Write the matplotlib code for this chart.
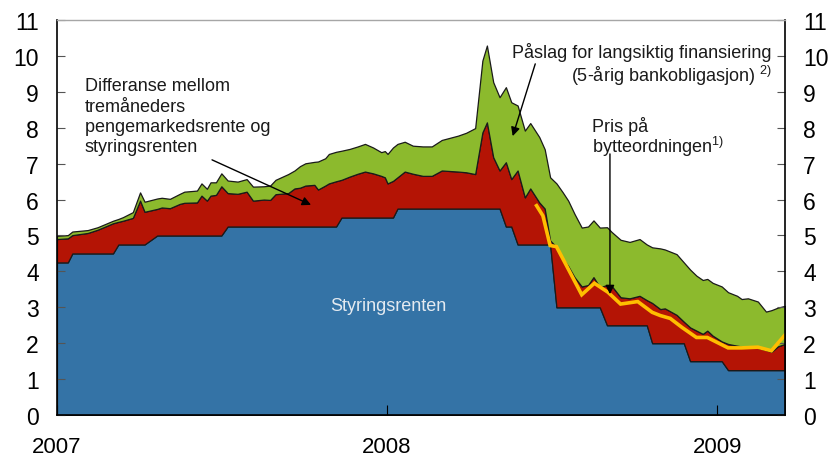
import matplotlib
matplotlib.use("Agg")
import matplotlib.pyplot as plt
import pandas as pd

plt.rcParams['font.family'] = ['Liberation Sans', 'DejaVu Sans']
plt.rcParams['mathtext.fontset'] = 'custom'
plt.rcParams['mathtext.rm'] = 'Liberation Sans'

dates = pd.to_datetime([
    '2007-01-01', '2007-01-13', '2007-01-18', '2007-02-04', '2007-02-15', '2007-03-04',
    '2007-03-10', '2007-03-15', '2007-03-26', '2007-04-03', '2007-04-08', '2007-04-22',
    '2007-04-27', '2007-05-06', '2007-05-17', '2007-05-22', '2007-06-05', '2007-06-10',
    '2007-06-16', '2007-06-20', '2007-06-26', '2007-07-02', '2007-07-09', '2007-07-20',
    '2007-07-30', '2007-08-06', '2007-08-18', '2007-08-25', '2007-08-31', '2007-09-14',
    '2007-09-21', '2007-09-27', '2007-10-03', '2007-10-13', '2007-10-17', '2007-10-25',
    '2007-10-29', '2007-11-06', '2007-11-12', '2007-11-21', '2007-11-30', '2007-12-08',
    '2007-12-17', '2007-12-26', '2007-12-30', '2008-01-02', '2008-01-08', '2008-01-13',
    '2008-01-21', '2008-01-30', '2008-02-10', '2008-02-20', '2008-03-02', '2008-03-20',
    '2008-03-29', '2008-04-08', '2008-04-16', '2008-04-21', '2008-04-28', '2008-05-05',
    '2008-05-12', '2008-05-18', '2008-05-25', '2008-06-02', '2008-06-08', '2008-06-18',
    '2008-06-24', '2008-06-30', '2008-07-07', '2008-07-14', '2008-07-20', '2008-07-27',
    '2008-08-04', '2008-08-11', '2008-08-17', '2008-08-24', '2008-09-01', '2008-09-06',
    '2008-09-16', '2008-09-26', '2008-10-07', '2008-10-15', '2008-10-21', '2008-10-30',
    '2008-11-04', '2008-11-17', '2008-11-25', '2008-12-02', '2008-12-09', '2008-12-16',
    '2008-12-21', '2008-12-27', '2009-01-06', '2009-01-13', '2009-01-23', '2009-01-28',
    '2009-02-04', '2009-02-15', '2009-02-24', '2009-03-02', '2009-03-09', '2009-03-17',
])

styringsrente = [
    4.25, 4.25, 4.50, 4.50, 4.50, 4.50, 4.75, 4.75, 4.75, 4.75, 4.75, 5.00,
    5.00, 5.00, 5.00, 5.00, 5.00, 5.00, 5.00, 5.00, 5.00, 5.00, 5.25, 5.25,
    5.25, 5.25, 5.25, 5.25, 5.25, 5.25, 5.25, 5.25, 5.25, 5.25, 5.25, 5.25,
    5.25, 5.25, 5.50, 5.50, 5.50, 5.50, 5.50, 5.50, 5.50, 5.50, 5.50, 5.75,
    5.75, 5.75, 5.75, 5.75, 5.75, 5.75, 5.75, 5.75, 5.75, 5.75, 5.75, 5.75,
    5.25, 5.25, 4.75, 4.75, 4.75, 4.75, 4.75, 4.75, 3.00, 3.00, 3.00, 3.00,
    3.00, 3.00, 3.00, 3.00, 2.50, 2.50, 2.50, 2.50, 2.50, 2.50, 2.00, 2.00,
    2.00, 2.00, 2.00, 1.50, 1.50, 1.50, 1.50, 1.50, 1.50, 1.25, 1.25, 1.25,
    1.25, 1.25, 1.25, 1.25, 1.25, 1.25,
]

differanse = [
    0.65, 0.67, 0.51, 0.57, 0.66, 0.84, 0.63, 0.66, 0.74, 1.22, 0.91, 0.74,
    0.78, 0.76, 0.88, 0.91, 0.92, 1.11, 0.97, 1.11, 1.13, 1.37, 0.93, 0.91,
    0.97, 0.72, 0.75, 0.74, 0.90, 0.93, 1.06, 1.08, 1.14, 1.16, 1.03, 1.14,
    1.20, 1.26, 1.05, 1.14, 1.22, 1.28, 1.23, 1.16, 1.12, 0.95, 1.02, 0.87,
    1.03, 0.97, 0.91, 0.91, 1.06, 1.03, 1.01, 0.96, 2.12, 2.40, 1.43, 1.06,
    1.79, 1.32, 2.06, 1.31, 1.56, 1.17, 1.00, 0.11, 1.68, 1.35, 1.15, 0.84,
    0.58, 0.62, 0.84, 0.56, 1.12, 1.10, 0.78, 0.75, 0.82, 0.70, 1.12, 0.95,
    0.97, 0.79, 0.60, 0.94, 0.85, 0.76, 0.85, 0.71, 0.55, 0.73, 0.68, 0.66,
    0.65, 0.62, 0.56, 0.51, 0.66, 0.73,
]

paslag = [
    0.09, 0.09, 0.10, 0.08, 0.07, 0.07, 0.08, 0.10, 0.16, 0.23, 0.28, 0.29,
    0.27, 0.26, 0.28, 0.31, 0.33, 0.34, 0.33, 0.37, 0.35, 0.36, 0.35, 0.34,
    0.35, 0.39, 0.37, 0.40, 0.40, 0.53, 0.50, 0.60, 0.62, 0.64, 0.78, 0.76,
    0.82, 0.82, 0.81, 0.77, 0.76, 0.77, 0.72, 0.66, 0.73, 0.82, 0.93, 0.93,
    0.83, 0.78, 0.82, 0.82, 0.85, 1.00, 1.10, 1.28, 2.00, 2.14, 2.09, 2.04,
    2.09, 2.14, 1.81, 1.86, 1.82, 1.82, 1.65, 1.76, 1.77, 1.85, 1.82, 1.76,
    1.64, 1.63, 1.58, 1.66, 1.61, 1.50, 1.60, 1.57, 1.58, 1.55, 1.55, 1.69,
    1.64, 1.69, 1.65, 1.61, 1.53, 1.50, 1.44, 1.47, 1.53, 1.44, 1.39, 1.32,
    1.35, 1.29, 1.07, 1.16, 1.08, 1.06,
]

bytte_dates = pd.to_datetime([
    '2008-06-15', '2008-06-22', '2008-06-30', '2008-07-07', '2008-07-20', '2008-08-04',
    '2008-08-18', '2008-09-02', '2008-09-16', '2008-10-05', '2008-10-21', '2008-10-30',
    '2008-11-10', '2008-11-23', '2008-12-09', '2008-12-21', '2009-01-13', '2009-01-28',
    '2009-02-15', '2009-03-02', '2009-03-17',
])
bytte_pris = [
    5.83, 5.55, 4.72, 4.69, 4.07, 3.35, 3.67, 3.42, 3.09, 3.16, 2.86, 2.77,
    2.69, 2.44, 2.16, 2.16, 1.87, 1.87, 1.89, 1.79, 2.23,
]

years = ['2007', '2008', '2009']

fig = plt.figure(figsize=(8.34, 4.64), dpi=100)
ax = fig.add_axes([0.0683, 0.1034, 0.8729, 0.8513])

ax.stackplot(dates, styringsrente, differanse, paslag,
             colors=['#3473A6', '#B41405', '#8CBA2D'],
             edgecolor='#1a1a1a', linewidth=0.9)
ax.plot(bytte_dates, bytte_pris, color='#FFBE00', lw=2.6, solid_joinstyle='miter')

ax.set_xlim(pd.Timestamp('2007-01-01'), pd.Timestamp('2009-03-17'))
ax.set_ylim(0, 11)
ax.set_yticks(range(12))
ax.set_xticks(pd.to_datetime([y + '-01-01' for y in years]))
ax.set_xticklabels(years)

ax.tick_params(axis='y', direction='in', length=6, width=0.8, color='#555555',
               labelsize=16.5, left=True, right=True, labelleft=True, labelright=True,
               pad=13)
ax.tick_params(axis='x', direction='in', length=7, width=0.8, labelsize=16, pad=15)
for side in ['left', 'right', 'bottom']:
    ax.spines[side].set_color('black')
    ax.spines[side].set_linewidth(1.2)
ax.spines['top'].set_color('#a6a6a6')
ax.spines['top'].set_linewidth(1.0)

tx = dict(transform=ax.transAxes, fontsize=13, color='#1a1a1a')
arrow = dict(arrowstyle='-|>', color='black', lw=1, mutation_scale=13, shrinkA=0, shrinkB=0)

ax.text(0.0385, 0.855, 'Differanse mellom\ntremåneders\npengemarkedsrente og\nstyringsrenten',
        va='top', ha='left', linespacing=1.25, **tx)
ax.annotate('', xy=(0.349, 0.532), xytext=(0.213, 0.646),
            xycoords='axes fraction', textcoords='axes fraction', arrowprops=arrow)

ax.text(0.982, 0.906, 'Påslag for langsiktig finansiering', ha='right', va='baseline', **tx)
ax.text(0.982, 0.846, '(5-årig bankobligasjon) $^{2)}$', ha='right', va='baseline', **tx)
ax.annotate('', xy=(0.626, 0.706), xytext=(0.657, 0.889),
            xycoords='axes fraction', textcoords='axes fraction', arrowprops=arrow)

ax.text(0.735, 0.72, 'Pris på', ha='left', va='baseline', **tx)
ax.text(0.735, 0.665, 'bytteordningen$^{1)}$', ha='left', va='baseline', **tx)
ax.annotate('', xy=(0.7596, 0.306), xytext=(0.7596, 0.661),
            xycoords='axes fraction', textcoords='axes fraction', arrowprops=arrow)

ax.text(0.4547, 0.278, 'Styringsrenten', ha='center', va='center',
        transform=ax.transAxes, fontsize=13, color='#E4EAF0')

fig.savefig('out.png', dpi=100)
